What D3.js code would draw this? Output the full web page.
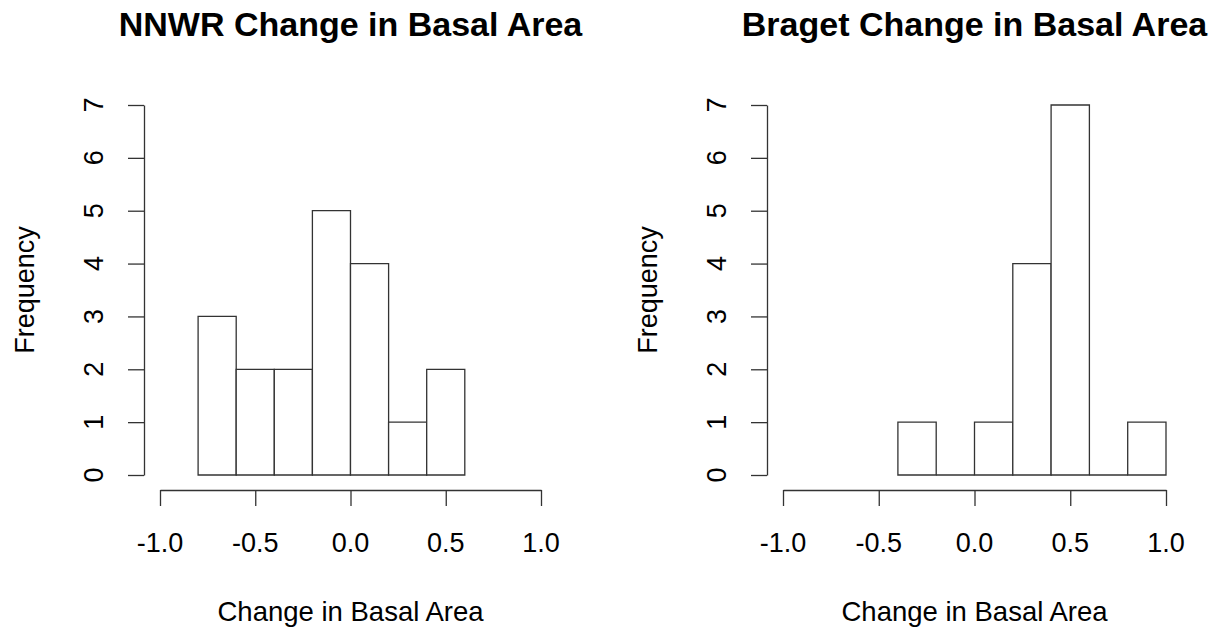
<!DOCTYPE html>
<html>
<head>
<meta charset="utf-8">
<script src="https://cdn.jsdelivr.net/npm/d3@7"></script>
<style>
  body { margin: 0; background: #fff; }
  svg text { font-family: "Liberation Sans", Arial, sans-serif; fill: #000; }
</style>
</head>
<body>
<div id="chart"></div>
<script>
// histogram bins (left edges, width 0.2) and counts
var nnwrBreaks = [-0.8, -0.6, -0.4, -0.2, 0.0, 0.2, 0.4, 0.6];
var nnwrCounts = [3, 2, 2, 5, 4, 1, 2];
var bragetBreaks = [-0.4, -0.2, 0.0, 0.2, 0.4, 0.6, 0.8, 1.0];
var bragetCounts = [1, 0, 1, 4, 7, 0, 1];
var xTicks = [-1.0, -0.5, 0.0, 0.5, 1.0];
var yTicks = [0, 1, 2, 3, 4, 5, 6, 7];

var svg = d3.select("#chart").append("svg")
  .attr("width", 1215).attr("height", 630);

var lineCol = "#333";

function panel(title, breaks, counts, left, right, yAxisX) {
  var x = d3.scaleLinear().domain([-1, 1]).range([left, right]);
  var y = d3.scaleLinear().domain([0, 7]).range([475, 105]);
  var g = svg.append("g");

  /* bars - drawn as closed paths so empty bins still show a line */
  var bins = counts.map(function(c, i) { return {x0: breaks[i], x1: breaks[i + 1], n: c}; });
  g.selectAll("path.bar").data(bins).enter().append("path")
    .attr("class", "bar")
    .attr("d", function(d) {
      var p = d3.path();
      p.moveTo(x(d.x0), y(0));
      p.lineTo(x(d.x0), y(d.n));
      p.lineTo(x(d.x1), y(d.n));
      p.lineTo(x(d.x1), y(0));
      p.closePath();
      return p.toString();
    })
    .attr("fill", "#fff")
    .attr("stroke", lineCol)
    .attr("stroke-width", 1.3);

  /* x axis */
  var xa = g.append("g").attr("transform", "translate(0,490)")
    .call(d3.axisBottom(x).tickValues(xTicks).tickSize(16).tickSizeOuter(0).tickFormat(""));
  /* y axis */
  var ya = g.append("g").attr("transform", "translate(" + yAxisX + ",0)")
    .call(d3.axisLeft(y).tickValues(yTicks).tickSize(16).tickSizeOuter(0).tickFormat(""));
  [xa, ya].forEach(function(a) {
    a.selectAll("path, line").attr("stroke", lineCol).attr("stroke-width", 1.3);
  });

  /* tick labels */
  g.selectAll(".xl").data(xTicks).enter().append("text")
    .attr("x", function(d) { return x(d); })
    .attr("y", 552)
    .attr("text-anchor", "middle")
    .style("font-size", "27px")
    .text(function(d) { return d3.format(".1f")(d).replace("\u2212", "-"); });

  g.selectAll(".yl").data(yTicks).enter().append("text")
    .attr("transform", function(d) { return "translate(" + (yAxisX - 41) + "," + y(d) + ") rotate(-90)"; })
    .attr("text-anchor", "middle")
    .style("font-size", "27px")
    .text(function(d) { return d; });

  /* titles */
  var cx = (left + right) / 2;
  g.append("text")
    .attr("x", cx).attr("y", 36)
    .attr("text-anchor", "middle")
    .style("font-size", "34px").style("font-weight", "bold")
    .text(title);
  g.append("text")
    .attr("x", cx).attr("y", 621)
    .attr("text-anchor", "middle")
    .style("font-size", "27.5px")
    .text("Change in Basal Area");
  g.append("text")
    .attr("transform", "translate(" + (yAxisX - 110) + "," + y(3.5) + ") rotate(-90)")
    .attr("text-anchor", "middle")
    .style("font-size", "27px")
    .text("Frequency");
}

panel("NNWR Change in Basal Area", nnwrBreaks, nnwrCounts, 160, 541, 144);
panel("Braget Change in Basal Area", bragetBreaks, bragetCounts, 783, 1166, 767);
</script>
</body>
</html>
